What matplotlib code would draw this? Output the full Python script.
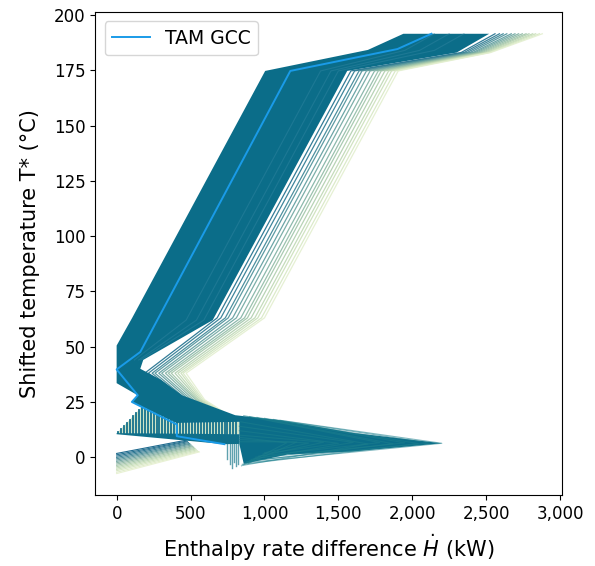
import matplotlib.pyplot as plt
from matplotlib.ticker import FuncFormatter

# ---- TAM grand composite curve ----
tam_h = [2130, 1900, 1175, 160, 0, 143, 103, 407, 407, 729]
tam_t = [191.5, 184.6, 174.7, 47.6, 39.7, 28.0, 25.0, 14.8, 9.5, 5.9]

# ---- outline of the dense (overlapping) part of the ensemble ----
core_h = [1940, 2520, 2300, 1560, 650, 180, 160, 300, 443, 802, 1106, 1600, 2200,
          1600, 1155, 860, 830, 830, 407, 103, 143, 0, 0, 105, 1005, 1700]
core_t = [191.5, 191.5, 183.0, 174.7, 62.0, 44.0, 40.0, 35.0, 28.0, 19.0, 16.7, 11.0, 6.3,
          2.6, 1.2, -3.0, 6.0, 16.0, 15.5, 25.0, 28.0, 33.5, 50.5, 63.0, 174.7, 184.2]

# ---- single curves at the right edge of the ensemble ----
fringe_t = [191.5, 183.0, 174.7, 63.0, 38.0, 26.0, 19.0]
fringe_h = [
    [2560, 2330, 1585, 680, 190, 430, 600],
    [2590, 2350, 1610, 705, 215, 445, 610],
    [2615, 2370, 1640, 735, 240, 460, 625],
    [2640, 2390, 1660, 755, 260, 475, 640],
    [2670, 2410, 1690, 785, 285, 490, 650],
    [2695, 2425, 1715, 810, 305, 505, 665],
    [2720, 2440, 1745, 840, 330, 520, 680],
    [2745, 2455, 1770, 865, 350, 535, 690],
    [2770, 2470, 1790, 885, 370, 545, 700],
    [2790, 2485, 1815, 910, 395, 555, 715],
    [2815, 2500, 1840, 935, 415, 565, 725],
    [2835, 2510, 1860, 955, 435, 575, 740],
    [2860, 2520, 1885, 980, 450, 585, 750],
    [2880, 2530, 1905, 1000, 470, 595, 760],
]
fringe_colors = ['#1d6e8c', '#2a7890', '#3a8495', '#4b9099', '#5c9b9d', '#6ea6a0',
                 '#80b1a3', '#90bba6', '#a0c5a9', '#b0ceae', '#bed8b4', '#cbe0bb',
                 '#d7e8c4', '#e3efcf']

# lighter streaks inside the dense part
streak_t = [191.5, 184.0, 174.7, 62.0, 44.0]
streak_h = [[2150, 1950, 1380, 470, 120],
            [2250, 2050, 1450, 540, 150],
            [2350, 2150, 1500, 590, 165]]

# ---- low temperature part ----
comb_h = [10, 30, 50, 70, 90, 110, 130, 150, 170, 190, 210, 230, 250, 270, 290, 310,
          330, 350, 370, 390, 410, 430, 450, 470, 490, 510, 530, 550, 570, 590, 610,
          630, 650, 670, 690, 710, 730, 750, 770, 790, 810]
comb_top = [11.4, 12.8, 14.2, 15.6, 17.0, 18.5, 19.9, 21.3, 22.9, 22.3, 21.7, 21.0,
            20.4, 19.8, 19.2, 18.5, 17.9, 17.3, 16.7, 16.0, 16.2, 16.2, 16.2, 16.2,
            16.3, 16.3, 16.3, 16.3, 16.3, 16.4, 16.4, 16.4, 16.4, 16.5, 16.5, 16.5,
            16.5, 16.6, 16.6, 16.6, 16.6]
comb_bot = [10.8, 10.8, 10.8, 10.7, 10.7, 10.7, 10.7, 10.7, 10.6, 10.6, 10.6, 10.6,
            10.6, 10.6, 10.6, 10.5, 10.5, 10.5, 10.5, 10.5, 10.5, 10.5, 10.5, 10.5,
            10.5, 10.4, 10.4, 10.4, 10.4, 10.4, 10.4, 10.4, 10.4, 10.4, 10.4, 10.4,
            10.3, 10.3, 10.3, 10.3, 10.3]
comb_fill_h = [0, 160, 170, 407, 830, 830, 0]
comb_fill_t = [10.7, 22.0, 22.9, 15.5, 16.0, 10.3, 10.7]

nose_h = [0, 830, 830, 729, 0]
nose_t = [10.9, 10.4, 6.0, 5.9, 10.4]

band_lo_t = [1.7, 1.1, 0.5, -0.1, -0.7, -1.3, -1.9, -2.5, -3.1, -3.7, -4.3, -4.9,
             -5.5, -6.1, -6.8, -7.4]
band_lo_h = [0, 0, 0, 0, 0, 0, 0, 0, 0, 0, 0, 0, 0, 0, 0, 0]
band_hi_h = [470, 475, 480, 486, 492, 498, 504, 510, 516, 522, 528, 534, 540, 546, 553, 560]
band_hi_t = [7.7, 7.3, 7.0, 6.6, 6.2, 5.9, 5.5, 5.1, 4.8, 4.4, 4.0, 3.7, 3.3, 2.9, 2.6, 2.4]
band_colors = ['#1f6a8e', '#25708f', '#2f7893', '#3d8296', '#4e8e9b', '#619a9f',
               '#74a6a3', '#87b2a7', '#98bdaa', '#a8c8ae', '#b6d2b3', '#c2dab8',
               '#cde1bd', '#d7e7c4', '#e0eccb', '#e8f1d3']

drop_h = [750, 765, 780, 795, 810, 822]
drop_top = [6.0, 6.0, 6.0, 6.0, 6.0, 6.0]
drop_bot = [-1.0, -3.0, -4.9, -2.0, -4.0, -3.0]

spike_start_h = [1106, 1060, 1000, 950, 900, 860, 840, 830, 830, 830, 830, 830, 830]
spike_start_t = [16.7, 17.1, 17.6, 18.0, 18.4, 18.8, 16.0, 14.0, 12.0, 10.0, 8.0, 7.0, 9.0]
spike_tip_h = [2200, 2120, 2040, 1950, 1870, 1780, 1700, 1600, 1500, 1400, 1300, 1220, 1150]
spike_tip_t = [6.3, 6.4, 6.2, 6.5, 6.1, 6.6, 6.0, 6.7, 6.3, 6.8, 6.4, 6.9, 6.5]
spike_end_h = [870, 900, 850, 930, 880, 960, 860, 910, 990, 940, 1000, 890, 845]
spike_end_t = [-2.5, -1.5, -3.2, -0.5, -2.0, 0.5, -3.6, -1.0, 1.5, 0.0, 2.0, -2.8, -3.9]

core_color = '#0b6d89'

fig, ax = plt.subplots(figsize=(5.95, 5.66), dpi=100)
fig.subplots_adjust(left=0.16, right=0.945, top=0.979, bottom=0.125)

for row, c in zip(fringe_h, fringe_colors):
    ax.plot(row, fringe_t, color=c, lw=0.9, alpha=0.9, zorder=1)

for lo_h, lo_t, hi_h, hi_t, c in zip(band_lo_h, band_lo_t, band_hi_h, band_hi_t, band_colors):
    ax.plot([lo_h, hi_h], [lo_t, hi_t], color=c, lw=0.8, zorder=1)

ax.fill(comb_fill_h, comb_fill_t, color='#cfe4c7', lw=0, zorder=1)
for h, t1, t2 in zip(comb_h, comb_top, comb_bot):
    ax.plot([h, h], [t2, t1], color='#15718d', lw=1.3, zorder=2)

ax.fill(core_h, core_t, color=core_color, lw=0, zorder=2)
ax.fill(nose_h, nose_t, color='#0f6f8a', lw=0, zorder=2)

for h, t1, t2 in zip(drop_h, drop_top, drop_bot):
    ax.plot([h, h], [t1, t2], color='#1b7a8c', lw=1.0, alpha=0.7, zorder=2)

for i in range(len(spike_tip_h)):
    ax.plot([spike_start_h[i], spike_tip_h[i], spike_end_h[i]],
            [spike_start_t[i], spike_tip_t[i], spike_end_t[i]],
            color='#1c7f8d', lw=0.8, alpha=0.55, zorder=3)

for row in streak_h:
    ax.plot(row, streak_t, color='#2f84a0', lw=0.8, alpha=0.5, zorder=3)

ax.plot(tam_h, tam_t, color='#1a9be8', lw=1.4, label='TAM GCC', zorder=5)

ax.set_xlim(-145, 3015)
ax.set_ylim(-17.2, 201.4)
ax.set_xticks([0, 500, 1000, 1500, 2000, 2500, 3000])
ax.set_yticks([0, 25, 50, 75, 100, 125, 150, 175, 200])
ax.xaxis.set_major_formatter(FuncFormatter(lambda v, p: f'{v:,.0f}'))
ax.tick_params(labelsize=12)
ax.set_xlabel(r'Enthalpy rate difference $\dot{H}$ (kW)', fontsize=15, labelpad=7)
ax.set_ylabel('Shifted temperature T* (°C)', fontsize=15, labelpad=10)
ax.legend(loc='upper left', fontsize=13.5)

fig.savefig('out.png', dpi=100)
